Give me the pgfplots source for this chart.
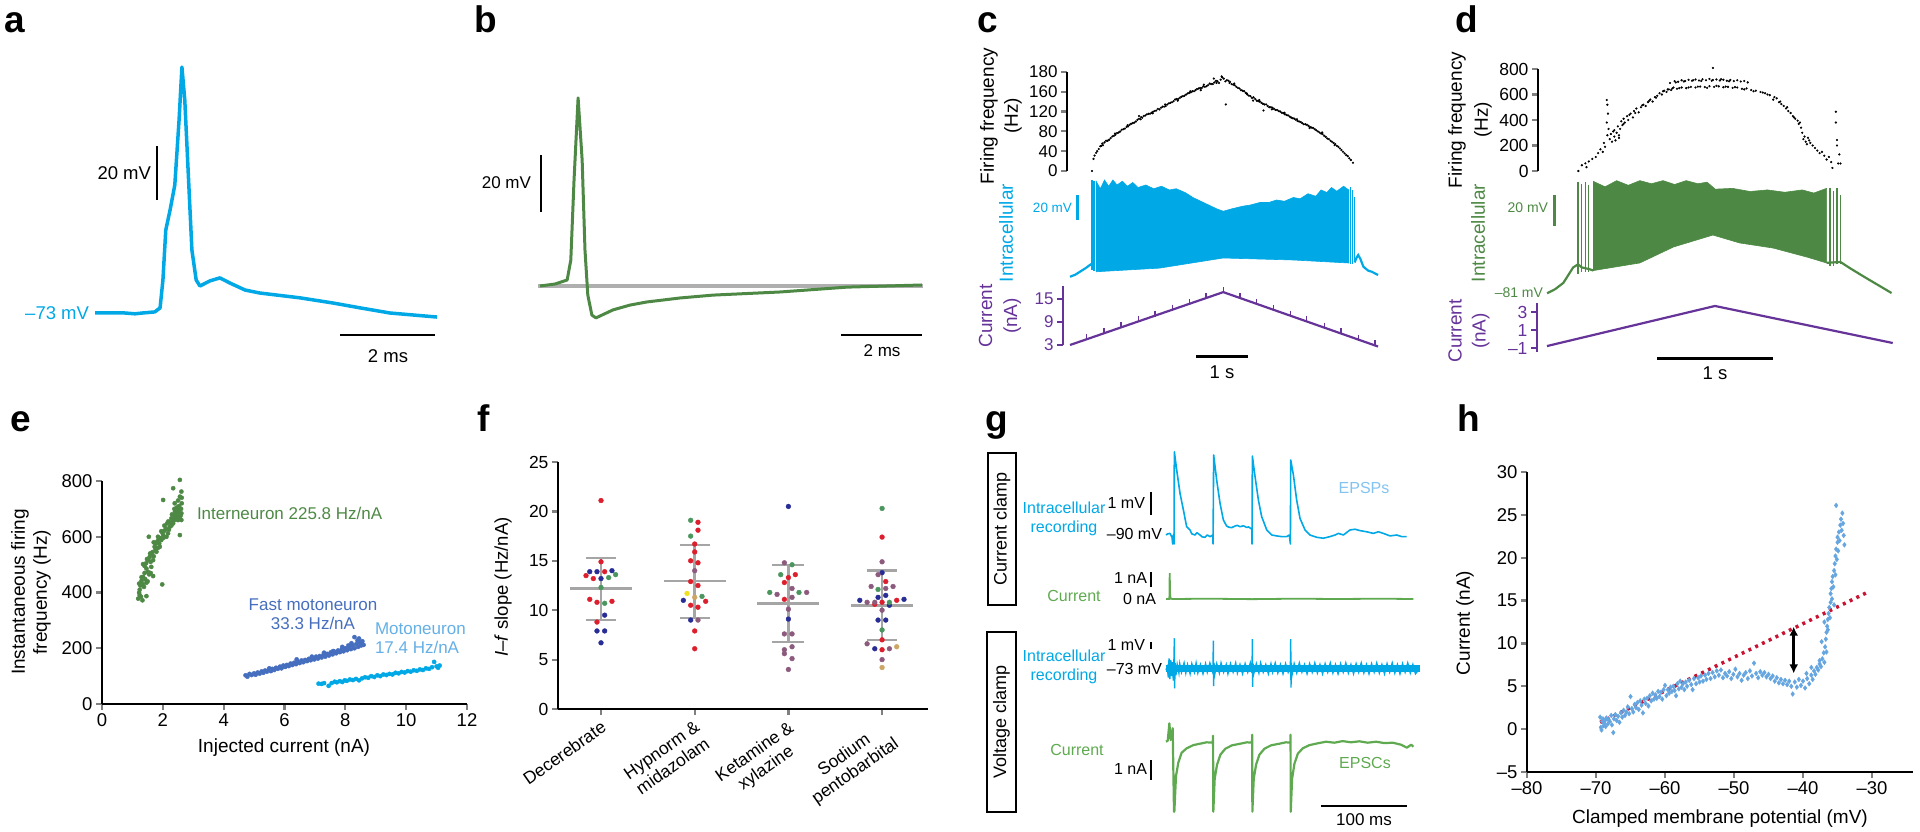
\documentclass[border=0pt]{standalone}
\usepackage{fontspec}
\setmainfont{Liberation Sans}
\usepackage{pgfplots}
\pgfplotsset{compat=1.18}
\usetikzlibrary{arrows.meta}
\definecolor{cyanA}{RGB}{0,168,230}
\definecolor{greenB}{RGB}{77,137,68}
\definecolor{purpleC}{RGB}{102,51,153}
\definecolor{blueF}{RGB}{70,110,190}
\definecolor{lblue}{RGB}{100,175,230}
\definecolor{hblue}{RGB}{102,166,224}
\definecolor{ggreen}{RGB}{95,170,80}
\definecolor{grayB}{RGB}{175,175,175}
\definecolor{fred}{RGB}{220,30,45}
\definecolor{fblue}{RGB}{40,45,150}
\definecolor{fgreen}{RGB}{75,150,95}
\definecolor{fmauve}{RGB}{140,90,125}
\definecolor{fyellow}{RGB}{240,225,30}
\definecolor{ftan}{RGB}{205,165,100}
\definecolor{fgray}{RGB}{165,165,165}
\definecolor{hred}{RGB}{200,20,50}
\definecolor{epsp}{RGB}{130,195,240}
\pgfplotsset{every axis/.append style={scale only axis, clip=false, tick align=outside, major tick length=6pt,
  /pgf/number format/assume math mode=true, axis line style={line width=2.2pt}, tick style={line width=2.2pt},
  tick label style={font=\fontsize{18.5}{20}\selectfont}}}
\tikzset{lab/.style={inner sep=0pt, outer sep=0pt}, pl/.style={lab, anchor=base west, font=\fontsize{37}{37}\selectfont\bfseries}}
\begin{document}
\begin{tikzpicture}
\useasboundingbox (0,0) rectangle (1920pt,831pt);
% ---------- panel letters
\node[pl] at (5pt,798pt) {a};
\node[pl] at (474pt,798pt) {b};
\node[pl] at (977pt,798pt) {c};
\node[pl] at (1455pt,798pt) {d};
\node[pl] at (10pt,399pt) {e};
\node[pl] at (477pt,399pt) {f};
\node[pl] at (985pt,399pt) {g};
\node[pl] at (1457pt,399pt) {h};
% ---------- a
\begin{axis}[at={(95pt,491pt)}, anchor=south west, width=345pt, height=280pt, xmin=0, xmax=7.263, ymin=-83.0, ymax=20.7, hide axis]
\addplot[cyanA, line width=3.5pt, line join=round] coordinates {(0,-73)(0.63,-73)(0.84,-73.3)(1.0,-73)(1.26,-72.6)(1.37,-71.1)(1.43,-60.8)(1.49,-42.3)(1.58,-34.9)(1.68,-25.6)(1.77,-1.5)(1.83,18.1)(1.89,5.9)(1.98,-27.4)(2.04,-49.7)(2.13,-60.8)(2.21,-63)(2.42,-61.1)(2.63,-60)(2.84,-61.9)(3.16,-64.5)(3.47,-65.6)(4.32,-67.4)(5.01,-69.3)(5.58,-71.1)(6.21,-73)(7.2,-74.5)};
\end{axis}
\draw[line width=2.5pt] (157pt,685pt) -- (157pt,631pt);
\draw[line width=2.5pt] (340pt,496pt) -- (435pt,496pt);
\node[lab, anchor=east, text=cyanA, font=\fontsize{18.5}{20}\selectfont] at (89pt,518pt) {–73 mV};
\node[lab, anchor=east, font=\fontsize{18.5}{20}\selectfont] at (151pt,658pt) {20 mV};
\node[lab, font=\fontsize{18.5}{20}\selectfont] at (388pt,475pt) {2 ms};
% ---------- b
\begin{axis}[at={(538pt,491pt)}, anchor=south west, width=387pt, height=260pt, xmin=0, xmax=9.556, ymin=-18.95, ymax=72.28, hide axis]
\addplot[grayB, line width=4.5pt] coordinates {(0,0)(9.5,0)};
\addplot[greenB, line width=3pt, line join=round] coordinates {(0.05,0)(0.42,0.7)(0.72,2.1)(0.81,9.1)(0.89,37.2)(0.99,66.0)(1.09,44.2)(1.16,12.6)(1.23,-3.2)(1.33,-10.2)(1.43,-11.2)(1.58,-10.2)(1.85,-8.4)(2.27,-6.7)(2.69,-5.6)(3.51,-4.2)(4.32,-3.2)(5.98,-2.1)(7.63,-0.4)(9.48,0.35)};
\end{axis}
\draw[line width=2.5pt] (541pt,676pt) -- (541pt,619pt);
\draw[line width=2.5pt] (841pt,496pt) -- (922pt,496pt);
\node[lab, anchor=east, font=\fontsize{17}{19}\selectfont] at (531pt,648pt) {20 mV};
\node[lab, font=\fontsize{17}{19}\selectfont] at (882pt,480pt) {2 ms};
% ---------- c
\begin{axis}[at={(1067pt,660pt)}, anchor=south west, width=313pt, height=99pt, xmin=-0.057, xmax=5.927, ymin=0, ymax=180,
  axis x line=none, axis y line*=left, xtick=\empty, ytick={0,36,72,108,144,180}, yticklabels={0,40,80,120,160,180}, tick label style={font=\fontsize{17}{18}\selectfont}]
\addplot[only marks, mark=*, mark size=0.9pt, black] coordinates {
(0.42,0)(0.45,22)(0.50,33)(0.55,40)(0.60,46)(0.66,52)(0.72,55)(0.78,60)(0.84,64)(0.90,69)(0.96,72)(1.02,76)(1.08,80)(1.14,84)(1.20,87)(1.26,90)(1.32,95)(1.38,97)(1.44,101)(1.50,104)(1.56,106)(1.62,109)(1.68,113)(1.74,115)(1.80,117)(1.86,121)(1.92,124)(1.98,127)(2.04,131)(2.10,133)(2.16,136)(2.22,139)(2.28,142)(2.34,145)(2.40,147)(2.46,150)(2.52,151)(2.58,153)(2.64,156)(2.70,158)(2.76,161)(2.82,163)(2.88,166)(2.94,168)
(3.00,165)(3.06,162)(3.12,157)(3.18,153)(3.24,150)(3.30,146)(3.36,142)(3.42,137)(3.48,133)(3.54,131)(3.60,127)(3.66,124)(3.72,121)(3.78,118)(3.84,116)(3.90,113)(3.96,111)(4.02,108)(4.08,105)(4.14,102)(4.20,99)(4.26,96)(4.32,93)(4.38,90)(4.44,87)(4.50,85)(4.56,82)(4.62,79)(4.68,76)(4.74,72)(4.80,68)(4.86,64)(4.92,59)(4.98,55)(5.04,51)(5.10,46)(5.16,41)(5.22,35)(5.28,29)(5.34,23)(5.41,15)
(0.47,28)(0.52,36)(0.58,45)(0.63,47)(0.69,55)(0.75,57)(0.81,63)(0.87,66)(0.93,70)(0.99,75)(1.05,77)(1.11,81)(1.17,86)(1.23,88)(1.29,93)(1.35,94)(1.41,100)(1.47,103)(1.53,104)(1.59,108)(1.65,110)(1.71,112)(1.77,117)(1.83,118)(1.89,123)(1.95,125)(2.01,130)(2.07,131)(2.13,135)(2.19,137)(2.25,141)(2.31,143)(2.37,145)(2.43,149)(2.49,151)(2.55,154)(2.61,154)(2.67,159)(2.73,158)(2.79,164)(2.85,160)(2.91,170)(2.97,163)
(3.03,164)(3.09,158)(3.15,156)(3.21,151)(3.27,147)(3.33,145)(3.39,139)(3.45,136)(3.51,134)(3.57,128)(3.63,126)(3.69,122)(3.75,121)(3.81,116)(3.87,115)(3.93,111)(3.99,109)(4.05,106)(4.11,103)(4.17,101)(4.23,97)(4.29,95)(4.35,91)(4.41,89)(4.47,85)(4.53,84)(4.59,80)(4.65,78)(4.71,74)(4.77,70)(4.83,67)(4.89,62)(4.95,58)(5.01,53)(5.07,49)(5.13,44)(5.19,38)(5.25,32)(5.31,27)(5.37,20)
(2.98,121)(1.32,100)(3.70,110)(2.75,168)(2.90,172)(3.05,160)(2.5,147)(3.5,128)
(0.62,50)(0.86,68)(1.10,83)(1.36,98)(1.58,105)(1.82,121)(2.06,128)(2.30,145)(2.56,157)(2.80,160)(3.14,159)(3.38,141)(3.62,129)(3.86,112)(4.10,106)(4.34,94)(4.58,78)(4.82,70)(5.06,47)};
\end{axis}
\begin{axis}[at={(1067pt,541pt)}, anchor=south west, width=313pt, height=112pt, xmin=-0.057, xmax=5.927, ymin=0, ymax=89.6, hide axis]
\addplot[cyanA, line width=2.2pt] coordinates {(0,10.6)(0.10,12.2)(0.19,14.6)(0.30,17.5)(0.38,20)(0.42,21)};
\addplot[fill=cyanA, draw=cyanA, line width=0.6pt] coordinates {(0.50,87)(0.58,81)(0.66,88)(0.74,83)(0.82,88)(0.90,84)(1.0,87)(1.1,83)(1.2,86)(1.3,82)(1.45,84)(1.6,81)(1.75,83)(1.9,80)(2.03,81)(2.2,78)(2.35,74)(2.5,71)(2.65,68)(2.8,65)(2.93,63)(3.1,65)(3.3,67)(3.45,68)(3.63,70)(3.8,70)(3.95,72)(4.1,71)(4.27,74)(4.4,73)(4.55,77)(4.7,75)(4.8,80)(4.91,78)(5.0,82)(5.1,79)(5.23,83)(5.33,80)(5.33,21.6)(4.27,24)(2.93,25.6)(1.71,17.5)(0.50,14.6)} -- cycle;
\addplot[cyanA, line width=1.2pt] coordinates {(0.42,16)(0.42,88)};
\addplot[cyanA, line width=1.2pt] coordinates {(0.46,15)(0.46,87)};
\addplot[cyanA, line width=1.2pt] coordinates {(5.36,21)(5.36,82)};
\addplot[cyanA, line width=1.2pt] coordinates {(5.40,21)(5.40,80)};
\addplot[cyanA, line width=1.2pt] coordinates {(5.44,22)(5.44,74)};
\addplot[cyanA, line width=2.2pt] coordinates {(5.44,22)(5.48,26)(5.51,28)(5.55,25)(5.61,18.6)(5.70,15.5)(5.77,14.6)(5.89,12)};
\end{axis}
\begin{axis}[at={(1063pt,486pt)}, anchor=south west, width=317pt, height=59pt, xmin=-0.134, xmax=5.927, ymin=3, ymax=18.4,
  axis x line=none, axis y line*=left, xtick=\empty, ytick={3,9,15}, y axis line style={purpleC}, ytick style={purpleC},
  yticklabel style={text=purpleC}, tick label style={font=\fontsize{17}{18}\selectfont}]
\addplot[purpleC, line width=2.2pt] coordinates {(0,3)(2.93,16.8)(5.89,2.6)};
\addplot[purpleC, only marks, mark=|, mark size=3pt, mark options={line width=1.2pt, yshift=2pt}] coordinates {(0.319,4.50)(0.65,6.06)(0.975,7.59)(1.306,9.15)(1.625,10.65)(1.956,12.21)(2.281,13.74)(2.6,15.25)(2.93,16.8)(3.25,15.26)(3.57,13.73)(3.89,12.19)(4.21,10.66)(4.52,9.17)(4.86,7.54)(5.18,6.01)(5.51,4.42)(5.83,2.89)};
\end{axis}
\draw[cyanA, line width=3pt] (1077pt,636pt) -- (1077pt,611pt);
\node[lab, anchor=east, text=cyanA, font=\fontsize{13.5}{15}\selectfont] at (1072pt,623pt) {20 mV};
\draw[line width=3pt] (1196pt,474pt) -- (1248pt,474pt);
\node[lab, font=\fontsize{18.5}{20}\selectfont] at (1222pt,459pt) {1 s};
\node[lab, rotate=90, align=center, font=\fontsize{19}{24}\selectfont] at (1001pt,715pt) {Firing frequency\\(Hz)};
\node[lab, rotate=90, text=cyanA, font=\fontsize{19}{24}\selectfont] at (1006pt,598pt) {Intracellular};
\node[lab, rotate=90, align=center, text=purpleC, font=\fontsize{19}{25}\selectfont] at (1000pt,515pt) {Current\\(nA)};
% ---------- d
\begin{axis}[at={(1538pt,660pt)}, anchor=south west, width=357pt, height=102pt, xmin=-0.078, xmax=3.0, ymin=0, ymax=800,
  axis x line=none, axis y line*=left, xtick=\empty, ytick={0,200,...,800}, tick label style={font=\fontsize{17.5}{18}\selectfont}]
\addplot[only marks, mark=*, mark size=0.9pt, black] coordinates {
(0.27,0)(0.30,45)(0.33,60)(0.36,75)(0.34,30)(0.39,95)(0.42,110)(0.44,140)(0.46,170)(0.48,150)(0.5,190)(0.49,220)(0.515,557)(0.52,520)(0.525,450)(0.515,380)(0.53,330)(0.52,280)(0.54,250)(0.55,290)(0.56,230)(0.57,310)(0.58,270)(0.59,240)(0.60,300)(0.61,350)(0.62,280)(0.63,330)(0.64,390)(0.65,360)(0.66,410)(0.67,380)(0.69,430)(0.70,400)(0.72,450)(0.74,420)(0.75,470)(0.77,490)(0.79,460)(0.81,500)(0.83,520)(0.85,510)(0.87,540)(0.89,560)(0.91,545)(0.93,580)(0.95,590)(0.97,610)(0.99,600)(1.01,630)(1.03,620)(1.05,640)(1.07,635)(1.09,655)
(1.06,690)(1.10,705)(1.13,700)(1.16,712)(1.19,706)(1.22,715)(1.25,708)(1.28,718)(1.31,710)(1.34,720)(1.37,712)(1.40,722)(1.43,714)(1.46,718)(1.49,710)(1.52,716)(1.55,708)(1.58,714)(1.61,705)(1.64,712)(1.67,702)(1.70,706)(1.73,695)
(1.00,625)(1.04,640)(1.08,648)(1.12,645)(1.16,655)(1.20,650)(1.24,660)(1.28,655)(1.32,662)(1.36,658)(1.40,665)(1.44,660)(1.48,664)(1.52,657)(1.56,660)(1.60,652)(1.64,655)(1.68,645)(1.72,648)(1.76,635)(1.80,630)(1.84,620)(1.88,610)(1.92,595)(1.96,580)
(1.95,560)(1.98,570)(2.00,540)(2.02,525)(2.04,510)(2.06,490)(2.08,470)(2.10,455)(2.12,430)(2.14,410)(2.16,395)(2.17,370)(2.19,340)(2.20,300)(2.21,250)(2.22,270)(2.23,230)(2.24,210)(2.25,260)(2.27,220)(2.29,200)(2.31,180)(2.33,160)(2.35,140)(2.37,150)(2.39,120)(2.41,90)(2.43,110)(2.45,70)(2.46,24)
(2.49,465)(2.49,380)(2.50,243)(2.50,200)(2.51,59)(2.53,59)(2.52,130)(1.43,808)
(0.58,320)(0.62,260)(0.66,370)(0.71,440)(0.76,455)(0.82,515)(0.88,550)(0.94,575)(1.11,695)(1.18,702)(1.26,712)(1.33,706)(1.42,708)(1.50,720)(1.57,704)(1.14,650)(1.22,655)(1.30,662)(1.38,652)(1.46,668)(1.54,662)(1.62,658)(1.70,640)(1.78,625)(1.86,615)(1.90,600)(2.01,545)(2.07,500)(2.13,420)(2.18,380)(2.26,240)};
\end{axis}
\begin{axis}[at={(1538pt,531pt)}, anchor=south west, width=357pt, height=122pt, xmin=-0.078, xmax=3.0, ymin=0, ymax=78.7, hide axis]
\addplot[greenB, line width=2.2pt] coordinates {(0,4.3)(0.07,7)(0.14,11)(0.225,21)(0.267,23)(0.30,21)(0.36,20)(0.40,19)};
\addplot[fill=greenB, draw=greenB, line width=0.6pt] coordinates {(0.40,76.5)(0.5,73)(0.6,77)(0.7,74)(0.8,77)(0.9,75)(1.0,77)(1.1,74.5)(1.2,77)(1.3,75)(1.38,76)(1.45,71.5)(1.6,72)(1.75,70)(1.9,71)(2.05,69.5)(2.2,71)(2.3,69)(2.41,72)(2.41,23.9)(2.24,27.7)(1.95,33.5)(1.66,36.8)(1.43,41.9)(1.09,34.2)(0.80,23.9)(0.40,19)} -- cycle;
\addplot[greenB, line width=1.2pt] coordinates {(0.267,17)(0.267,76)};
\addplot[greenB, line width=1.2pt] coordinates {(0.30,18)(0.30,75)};
\addplot[greenB, line width=1.2pt] coordinates {(0.33,18)(0.33,76)};
\addplot[greenB, line width=1.2pt] coordinates {(0.36,18)(0.36,74)};
\addplot[greenB, line width=1.2pt] coordinates {(2.44,22)(2.44,72)};
\addplot[greenB, line width=1.2pt] coordinates {(2.47,22)(2.47,70)};
\addplot[greenB, line width=1.2pt] coordinates {(2.50,23)(2.50,72)};
\addplot[greenB, line width=1.2pt] coordinates {(2.53,23)(2.53,68)};
\addplot[greenB, line width=2.2pt] coordinates {(2.41,24)(2.53,24.5)(2.61,20.6)(2.70,16.5)(2.78,12.9)(2.88,8.5)(2.97,4.5)};
\end{axis}
\begin{axis}[at={(1537pt,479pt)}, anchor=south west, width=358pt, height=49pt, xmin=-0.086, xmax=3.0, ymin=-1.44, ymax=4,
  axis x line=none, axis y line*=left, xtick=\empty, ytick={-1,1,3}, yticklabels={–1,1,3}, y axis line style={purpleC}, ytick style={purpleC},
  yticklabel style={text=purpleC}, tick label style={font=\fontsize{17.5}{18}\selectfont}]
\addplot[purpleC, line width=2.2pt] coordinates {(0,-0.78)(1.448,3.67)(2.98,-0.44)};
\end{axis}
\draw[greenB, line width=3pt] (1554pt,636pt) -- (1554pt,605pt);
\node[lab, anchor=east, text=greenB, font=\fontsize{14}{15}\selectfont] at (1548pt,623pt) {20 mV};
\node[lab, anchor=east, text=greenB, font=\fontsize{14}{15}\selectfont] at (1543pt,538pt) {–81 mV};
\draw[line width=3pt] (1657pt,472pt) -- (1773pt,472pt);
\node[lab, font=\fontsize{18.5}{20}\selectfont] at (1715pt,458pt) {1 s};
\node[lab, rotate=90, align=center, font=\fontsize{19}{26}\selectfont] at (1470pt,711pt) {Firing frequency\\(Hz)};
\node[lab, rotate=90, text=greenB, font=\fontsize{19}{24}\selectfont] at (1478pt,598pt) {Intracellular};
\node[lab, rotate=90, align=center, text=purpleC, font=\fontsize{19}{24}\selectfont] at (1469pt,500pt) {Current\\(nA)};
% ---------- e
\begin{axis}[at={(102pt,127pt)}, anchor=south west, width=365pt, height=223pt, xmin=0, xmax=12, ymin=0, ymax=800,
  axis lines*=left, xtick={0,2,...,12}, ytick={0,200,...,800}]
\addplot[only marks, mark=*, mark size=2.1pt, greenB] coordinates {
(1.19,378)(1.24,390)(1.22,399)(1.28,385)(1.33,372)(1.46,387)(1.22,432)(1.30,442)(1.26,425)(1.34,430)(1.38,420)(1.46,435)(1.50,440)(1.35,456)(1.42,448)(1.68,459)(1.51,474)(1.55,465)(1.60,470)(1.35,502)(1.40,495)(1.45,505)(1.51,516)(1.62,492)(1.46,486)(1.57,528)(1.52,520)(1.60,510)(1.68,516)(1.64,535)(1.70,530)(1.79,546)(1.73,564)(1.76,555)(1.84,560)(1.90,564)(1.81,582)(1.88,575)(1.95,588)(1.84,600)(1.92,595)(2.01,606)(2.12,600)(1.54,600)(2.06,622)(1.98,615)(2.17,612)(2.10,630)(2.23,636)(2.20,625)(2.34,648)(2.28,640)(2.39,660)(2.28,666)(2.32,658)(2.44,670)(2.50,672)(2.61,684)(2.45,696)(2.56,702)(2.34,678)(2.50,660)(2.61,660)(2.40,690)(2.48,685)(2.52,692)(2.58,675)(2.42,675)(2.55,668)(2.36,665)(2.46,705)(2.53,710)(2.39,720)(2.56,744)(2.50,730)(2.34,774)(2.56,804)(2.61,762)(2.01,732)(2.56,606)(1.98,429)(2.05,640)(2.14,648)(2.18,655)(1.95,620)(2.02,596)(1.86,590)(1.76,575)(1.66,545)(1.58,540)(1.48,520)(1.40,470)(1.30,455)(1.24,410)(2.25,650)(2.30,680)(2.38,700)(2.60,700)(2.62,720)(2.62,740)(1.70,580)};
\addplot[only marks, mark=*, mark size=2.1pt, blueF] coordinates {
(4.72,103)(4.78,98)(4.85,108)(4.92,104)(5.00,110)(5.05,105)(5.12,113)(5.18,109)(5.25,117)(5.30,112)(5.36,120)(5.42,116)(5.48,123)(5.55,118)(5.60,126)(5.66,122)(5.72,130)(5.78,126)(5.85,134)(5.90,128)(5.96,138)(6.02,133)(6.08,140)(6.14,136)(6.20,145)(6.26,140)(6.32,148)(6.38,143)(6.44,152)(6.50,147)(6.56,156)(6.62,150)(6.68,158)(6.74,154)(6.80,162)(6.86,157)(6.92,165)(6.98,160)(7.04,170)(7.10,163)(7.16,172)(7.22,167)(7.28,176)(7.34,170)(7.40,180)(7.46,174)(7.52,185)(7.58,178)(7.64,188)(7.70,182)(7.76,192)(7.82,186)(7.88,196)(7.94,189)(8.00,200)(8.06,193)(8.12,205)(8.18,197)(8.24,210)(8.30,200)(8.36,215)(8.42,205)(8.48,222)(8.52,210)(8.56,225)(8.30,240)(8.45,235)(8.50,215)(8.60,212)(7.90,205)(8.20,218)(7.60,190)(6.40,160)(5.50,128)(8.10,210)(8.40,228)(7.30,184)(6.90,170)};
\addplot[only marks, mark=*, mark size=2.1pt, cyanA] coordinates {
(7.12,73)(7.22,72)(7.30,75)(7.45,65)(7.55,75)(7.65,80)(7.72,78)(7.82,82)(7.90,79)(7.98,85)(8.05,83)(8.15,88)(8.25,86)(8.35,90)(8.45,85)(8.55,92)(8.65,96)(8.75,94)(8.85,100)(8.95,97)(9.05,103)(9.15,100)(9.25,106)(9.35,104)(9.45,108)(9.55,106)(9.65,112)(9.75,110)(9.85,115)(9.95,113)(10.05,118)(10.15,116)(10.25,121)(10.35,119)(10.45,124)(10.55,122)(10.65,128)(10.75,126)(10.85,132)(10.92,151)(11.00,135)(11.10,138)(11.05,130)};
\end{axis}
\node[lab, anchor=west, text=greenB, font=\fontsize{17}{19}\selectfont] at (197pt,318pt) {Interneuron 225.8 Hz/nA};
\node[lab, align=center, text=blueF, font=\fontsize{17}{19}\selectfont] at (313pt,217pt) {Fast motoneuron\\33.3 Hz/nA};
\node[lab, anchor=west, align=left, text=lblue, font=\fontsize{17}{19}\selectfont] at (375pt,193pt) {Motoneuron\\17.4 Hz/nA};
\node[lab, font=\fontsize{19}{21}\selectfont] at (284pt,83pt) {Injected current (nA)};
\node[lab, rotate=90, align=center, font=\fontsize{19}{22}\selectfont] at (31pt,239pt) {Instantaneous firing\\frequency (Hz)};
% ---------- f
\begin{axis}[at={(558pt,122pt)}, anchor=south west, width=370pt, height=247pt, xmin=-0.459, xmax=3.49, ymin=0, ymax=25,
  axis lines*=left, xtick={0,1,2,3}, ytick={0,5,...,25}, tick label style={font=\fontsize{17.5}{19.5}\selectfont},
  xticklabels={Decerebrate,{Hypnorm \&\\midazolam},{Ketamine \&\\xylazine},{Sodium\\pentobarbital}},
  xticklabel style={rotate=35, anchor=north east, align=center}]
\addplot[only marks, mark=*, mark size=2.4pt, fred] coordinates {(0,21.1)(0,14.9)(0.039,13.9)(-0.160,13.5)(-0.082,13.2)(-0.12,11.1)(-0.043,10.8)(0.117,10.9)(-0.043,8.8)(1.035,18.9)(1.035,18.1)(1,16.7)(1,15.9)(0.957,15.0)(1.035,14.8)(0.957,12.9)(1.035,12.5)(1.117,10.9)(0.957,10.5)(1.035,10.3)(1,7.9)(1,6.1)(2.074,13.6)(2,13.3)(1.957,12.8)(1.957,11.1)(3,17.4)(3.039,12.9)(3,10.8)(3.156,11.0)(2.922,10.6)(3,7.0)(3,6.0)};
\addplot[only marks, mark=*, mark size=2.4pt, fblue] coordinates {(-0.12,13.9)(-0.043,13.9)(0.117,14.0)(0,13.2)(0.039,9.5)(-0.043,7.9)(0.039,7.9)(0,6.7)(0.879,11.0)(0.957,9.0)(2,20.5)(2,9.1)(3,13.8)(2.957,11.3)(3.039,11.5)(2.762,11.0)(3.234,11.1)(3.078,10.5)(2.957,9.0)(3.039,9.0)(2.922,6.1)};
\addplot[only marks, mark=*, mark size=2.4pt, fgreen] coordinates {(0.082,13.3)(0.156,13.6)(0,12.3)(0.039,10.7)(0.957,19.1)(0.957,17.5)(1.078,11.4)(2.039,14.6)(1.918,13.6)(1.801,11.8)(2.113,11.8)(3,20.3)(2.957,12.1)(3.078,10.8)(3,8.0)};
\addplot[only marks, mark=*, mark size=2.4pt, fmauve] coordinates {(1,14.0)(1.035,9.0)(1.957,14.8)(2.039,12.2)(1.879,11.6)(2.195,11.8)(2.039,11.3)(2,10.1)(1.957,7.6)(2.039,7.6)(2.039,6.3)(1.957,6.0)(1.957,5.6)(2.039,5.1)(2,4.0)(3,14.9)(2.957,13.6)(2.883,12.4)(3.039,12.2)(3.117,12.4)(2.840,10.8)(2.922,10.8)(3,10.0)(2.840,6.6)(3.078,6.1)(3,5.0)};
\addplot[only marks, mark=*, mark size=2.4pt, fyellow] coordinates {(0.918,11.7)};
\addplot[only marks, mark=*, mark size=2.4pt, ftan] coordinates {(1,11.3)(3.156,6.3)(3,4.2)};
\addplot[fgray, line width=2.5pt, unbounded coords=jump] coordinates {(-0.33,12.2)(0.33,12.2)(0.4,nan)(-0.16,15.3)(0.16,15.3)(0.2,nan)(-0.16,9.0)(0.16,9.0)(0.2,nan)(0,9.0)(0,15.3)};
\addplot[fgray, line width=2.5pt, unbounded coords=jump] coordinates {(0.67,12.95)(1.33,12.95)(1.4,nan)(0.84,16.6)(1.16,16.6)(1.2,nan)(0.84,9.2)(1.16,9.2)(1.2,nan)(1,9.2)(1,16.6)};
\addplot[fgray, line width=2.5pt, unbounded coords=jump] coordinates {(1.67,10.7)(2.33,10.7)(2.4,nan)(1.83,14.6)(2.17,14.6)(2.2,nan)(1.83,6.8)(2.17,6.8)(2.2,nan)(2,6.8)(2,14.6)};
\addplot[fgray, line width=2.5pt, unbounded coords=jump] coordinates {(2.67,10.5)(3.33,10.5)(3.4,nan)(2.84,14.0)(3.16,14.0)(3.2,nan)(2.84,7.0)(3.16,7.0)(3.2,nan)(3,7.0)(3,14.0)};
\end{axis}
\node[lab, rotate=90, font=\fontsize{18.5}{20}\selectfont] at (503pt,244pt) {\textit{I}–\textit{f} slope (Hz/nA)};
% ---------- g
\draw[line width=2pt] (988pt,226pt) rectangle (1016pt,378pt);
\node[lab, rotate=90, font=\fontsize{18}{20}\selectfont] at (1002pt,302pt) {Current clamp};
\draw[line width=2pt] (987pt,19pt) rectangle (1016pt,199pt);
\node[lab, rotate=90, font=\fontsize{18}{20}\selectfont] at (1001.5pt,109pt) {Voltage clamp};
\node[lab, align=center, text=cyanA, font=\fontsize{16}{18.5}\selectfont] at (1064pt,312pt) {Intracellular\\recording};
\node[lab, text=ggreen, font=\fontsize{16}{18}\selectfont] at (1074pt,235pt) {Current};
\node[lab, align=center, text=cyanA, font=\fontsize{16}{18.5}\selectfont] at (1064pt,164pt) {Intracellular\\recording};
\node[lab, text=ggreen, font=\fontsize{16}{18}\selectfont] at (1077pt,81pt) {Current};
\node[lab, anchor=east, font=\fontsize{16}{18}\selectfont] at (1145pt,328pt) {1 mV};
\draw[line width=2pt] (1151pt,339pt) -- (1151pt,316pt);
\node[lab, anchor=east, font=\fontsize{16}{18}\selectfont] at (1162pt,297pt) {–90 mV};
\node[lab, anchor=east, font=\fontsize{16}{18}\selectfont] at (1147pt,253pt) {1 nA};
\draw[line width=2pt] (1151pt,259pt) -- (1151pt,244pt);
\node[lab, anchor=east, font=\fontsize{16}{18}\selectfont] at (1156pt,232pt) {0 nA};
\node[lab, anchor=east, font=\fontsize{16}{18}\selectfont] at (1145pt,186pt) {1 mV};
\draw[line width=2pt] (1151pt,189pt) -- (1151pt,182pt);
\node[lab, anchor=east, font=\fontsize{16}{18}\selectfont] at (1162pt,162pt) {–73 mV};
\node[lab, anchor=east, font=\fontsize{16}{18}\selectfont] at (1147pt,62pt) {1 nA};
\draw[line width=2pt] (1151pt,71pt) -- (1151pt,51pt);
\node[lab, text=epsp, font=\fontsize{16}{18}\selectfont] at (1364pt,343pt) {EPSPs};
\node[lab, text=ggreen, font=\fontsize{16}{18}\selectfont] at (1365pt,68pt) {EPSCs};
\draw[line width=2.5pt] (1321pt,25pt) -- (1407pt,25pt);
\node[lab, font=\fontsize{17}{18}\selectfont] at (1364pt,11pt) {100 ms};
\begin{axis}[at={(1166pt,281pt)}, anchor=south west, width=254pt, height=105pt, xmin=0, xmax=295.3, ymin=-90.652, ymax=-86.087, hide axis]
\addplot[cyanA, line width=1.6pt, line join=round] coordinates {(0,-90)(2,-89.95)(4.65,-89.93)(7.0,-90.1)(7.75,-90.39)(8.5,-90.0)(9.3,-90.39)(9.69,-86.38)(12.4,-87.17)(16.3,-88.19)(20.2,-88.91)(24.0,-89.64)(27.9,-89.78)(30,-89.95)(33.7,-90)(36,-89.9)(39.5,-90)(42,-90.08)(45.3,-90.1)(48,-90.0)(51.2,-90.07)(54.3,-90)(54.7,-90.39)(55.4,-86.52)(58.9,-87.61)(62.8,-88.62)(66.7,-89.35)(70.5,-89.61)(73,-89.66)(76.4,-89.68)(80.2,-89.61)(83,-89.58)(86.0,-89.64)(90,-89.6)(93.8,-89.67)(96,-89.65)(98.4,-89.71)(99.8,-89.75)(100,-90.39)(100.4,-86.57)(103.5,-87.46)(107.4,-88.48)(111.2,-89.2)(117.1,-89.78)(122.9,-90)(128.7,-90.04)(134.5,-90.07)(140.3,-90.07)(143.4,-90)(144.6,-90.39)(145.0,-86.74)(148.1,-87.39)(151.9,-88.48)(155.8,-89.28)(161.6,-89.78)(167.4,-90)(175.2,-90.1)(182.9,-90.14)(190.7,-90.07)(196.5,-90)(200.4,-89.93)(206.2,-90)(213.9,-89.78)(219.8,-89.75)(225.6,-89.81)(233.3,-89.86)(241.1,-89.93)(246.9,-89.86)(252.7,-89.93)(260.5,-90.04)(268.2,-90)(274.0,-90.07)(279.8,-90.07)};
\end{axis}
\begin{axis}[at={(1166pt,221pt)}, anchor=south west, width=254pt, height=50pt, xmin=0, xmax=295.3, ymin=-0.733, ymax=2.6, hide axis]
\addplot[ggreen, line width=1.8pt] coordinates {(0,0)(3.9,0)(4.3,1.73)(4.8,0.2)(5.5,0.05)(7,0)(50,0.02)(100,-0.01)(150,0.02)(200,0)(250,0.02)(287.6,0)};
\end{axis}
\begin{axis}[at={(1166pt,131pt)}, anchor=south west, width=254pt, height=70pt, xmin=0, xmax=295.3, ymin=-77.1, ymax=-68.03, hide axis]
\addplot[fill=cyanA, draw=none] coordinates {(0,-72.55)(295,-72.55)(295,-73.45)(0,-73.45)} -- cycle;
\addplot[cyanA, line width=1.4pt] coordinates {(0,-73.2)(1.5,-72.8)(2.7,-74.2)(3.5,-71.7)(4.5,-74.4)(5.5,-71.9)(6.5,-74.0)(7.5,-72.2)(8.5,-74.6)(9.3,-71.5)(9.7,-69.1)(10.0,-75.6)(10.6,-72.3)(11.5,-73.9)(13,-72.5)(15,-73.6)(16,-72.4)(18,-73.5)(21,-72.3)(23,-73.6)(25,-72.5)(28,-73.7)(30,-72.4)(33,-73.5)(35,-72.3)(37,-73.6)(40,-72.5)(43,-73.7)(46,-72.4)(48,-73.5)(51,-72.3)(54.6,-73.6)(55.0,-69.4)(55.3,-75.3)(55.8,-72.3)(56.6,-73.8)(59,-72.4)(62,-73.6)(64,-72.3)(67,-73.5)(70,-72.5)(72,-73.7)(75,-72.4)(78,-73.5)(81,-72.3)(83,-73.6)(86,-72.5)(89,-73.7)(92,-72.4)(95,-73.5)(98,-72.3)(100.0,-73.6)(100.4,-69.2)(100.7,-75.4)(101.2,-72.4)(102,-73.7)(105,-72.4)(108,-73.6)(110,-72.3)(113,-73.5)(116,-72.5)(119,-73.7)(122,-72.4)(124,-73.5)(127,-72.3)(130,-73.6)(133,-72.5)(136,-73.7)(139,-72.4)(142,-73.5)(144.6,-72.7)(145.0,-69.2)(145.3,-75.5)(145.8,-72.3)(146.6,-73.8)(149,-72.4)(152,-73.6)(155,-72.3)(158,-73.5)(161,-72.5)(164,-73.7)(167,-72.4)(170,-73.5)(173,-72.3)(176,-73.6)(179,-72.5)(182,-73.7)(185,-72.4)(188,-73.5)(191,-72.3)(194,-73.6)(197,-72.5)(200,-73.7)(203,-72.4)(206,-73.5)(209,-72.3)(212,-73.6)(215,-72.5)(218,-73.7)(221,-72.4)(224,-73.5)(227,-72.3)(230,-73.6)(233,-72.5)(236,-73.7)(239,-72.4)(242,-73.5)(245,-72.3)(248,-73.6)(251,-72.5)(254,-73.7)(257,-72.4)(260,-73.5)(263,-72.3)(266,-73.6)(269,-72.5)(272,-73.7)(275,-72.4)(278,-73.5)(281,-72.3)(284,-73.6)(287,-72.5)(290,-73.7)(295,-73.0)};
\end{axis}
\begin{axis}[at={(1166pt,16pt)}, anchor=south west, width=254pt, height=100pt, xmin=0, xmax=295.3, ymin=-3.615, ymax=1.385, hide axis]
\addplot[ggreen, line width=2.2pt, line join=round] coordinates {(0,0.05)(2,0.1)(3.9,0.97)(5.4,0.13)(7.75,0.72)(9.3,-3.45)(9.7,-3.45)(11.6,-1.67)(14.3,-1.0)(18.2,-0.5)(24.0,-0.28)(31.8,-0.12)(39.5,-0.05)(47.3,0.02)(54.3,0.0)(54.7,0.35)(55.0,-3.45)(56.6,-1.8)(59.3,-1.1)(63.2,-0.6)(69.0,-0.3)(76.8,-0.13)(86.4,-0.05)(94.2,0.02)(100.0,0.0)(100.2,0.4)(100.4,-3.45)(102.0,-1.8)(104.7,-1.1)(108.6,-0.6)(114.4,-0.3)(122.2,-0.13)(131.8,-0.05)(139.5,0.02)(144.6,0.0)(144.8,0.4)(145.0,-3.45)(146.6,-1.8)(149.3,-1.05)(153.2,-0.55)(159.0,-0.28)(166.8,-0.12)(176.4,-0.03)(186.0,0.05)(195.7,0.0)(205.4,0.08)(215.0,0.02)(224.8,0.07)(234.5,0.0)(244.2,0.05)(253.9,-0.02)(263.6,0.0)(273.3,-0.1)(280.0,-0.25)(285.0,-0.1)(287.6,-0.2)};
\end{axis}
% ---------- h
\begin{axis}[at={(1527pt,59pt)}, anchor=south west, width=386pt, height=300pt, xmin=-80, xmax=-24.06, ymin=-5, ymax=30,
  axis lines*=left, xtick={-80,-70,...,-30}, xticklabels={–80,–70,–60,–50,–40,–30}, ytick={-5,0,...,30}, yticklabels={–5,0,5,10,15,20,25,30}]
\addplot[only marks, mark=diamond*, mark size=2.4pt, hblue] coordinates {
(-69.4,1.4)(-69.3,0.2)(-69.2,-0.1)(-69.1,0.9)(-69.0,1.2)(-68.9,0.4)(-68.8,0.7)(-68.7,1.0)(-68.6,0.3)(-68.5,1.3)(-68.3,0.6)(-68.2,1.1)(-68.0,0.9)(-67.8,1.6)(-67.7,0.5)(-67.5,-0.4)(-67.4,1.2)(-67.2,1.7)(-67.0,1.0)(-66.8,1.5)(-66.6,0.8)(-66.4,1.9)(-66.2,1.4)(-66.0,2.2)(-65.8,1.6)(-65.6,2.0)(-65.4,2.6)(-65.2,1.8)(-65.0,3.8)(-64.8,2.4)(-64.6,2.0)(-64.4,2.9)(-64.2,2.5)(-64.0,3.1)(-63.8,2.3)(-63.6,3.3)(-63.4,2.8)(-63.2,1.9)(-63.0,3.5)(-62.8,3.0)(-62.6,3.6)(-62.4,2.7)(-62.2,3.9)(-62.0,3.3)(-61.8,4.2)(-61.6,3.5)(-61.4,4.0)(-61.2,3.6)(-61.0,4.4)(-60.8,3.8)(-60.6,4.3)(-60.4,3.5)(-60.2,4.6)(-60.0,5.1)(-59.8,3.9)(-59.6,4.6)(-59.4,4.2)(-59.2,4.9)(-59.0,4.4)(-58.8,5.0)(-58.6,4.5)(-58.4,3.9)(-58.2,5.3)(-58.0,4.7)(-57.8,5.6)(-57.6,4.9)(-57.4,5.3)(-57.2,4.6)(-57.0,5.5)(-56.8,5.0)(-56.5,5.7)(-56.2,5.2)(-56.0,4.6)(-55.8,5.9)(-55.5,5.3)(-55.2,6.0)(-55.0,5.5)(-54.8,6.2)(-54.5,5.6)(-54.2,6.3)(-54.0,5.8)(-53.7,6.5)(-53.4,5.9)(-53.1,6.6)(-52.8,6.1)(-52.5,6.8)(-52.2,6.3)(-51.9,6.9)(-51.6,6.0)(-51.3,6.5)(-51.0,6.2)(-50.7,6.7)(-50.4,5.9)(-50.1,6.4)(-49.8,7.0)(-49.5,6.1)(-49.2,6.5)(-48.9,5.7)(-48.6,6.3)(-48.3,6.6)(-48.0,5.9)(-47.7,6.8)(-47.4,6.2)(-47.1,7.7)(-46.8,6.5)(-46.5,6.0)(-46.2,6.7)(-45.9,6.3)(-45.6,6.6)(-45.3,6.1)(-45.0,6.4)(-44.7,5.9)(-44.4,6.2)(-44.1,5.6)(-43.8,6.0)(-43.5,5.4)(-43.2,5.8)(-42.9,5.3)(-42.6,5.7)(-42.3,5.2)(-42.0,5.6)(-41.7,5.0)(-41.5,4.1)(-41.2,5.5)(-40.9,4.9)(-40.6,5.8)(-40.3,5.1)(-40.0,5.6)(-39.7,4.8)(-39.4,5.9)(-39.1,5.3)(-38.8,6.3)(-38.6,5.8)(-38.4,6.8)(-38.2,6.4)(-38.0,7.2)(-37.8,6.9)(-37.6,7.6)(-37.4,7.3)(-37.2,8.2)(-37.0,8.9)(-36.9,7.8)(-36.8,9.6)(-36.7,10.5)(-36.6,11.3)(-36.5,12.0)(-36.4,11.6)(-36.4,12.8)(-36.3,13.5)(-36.2,14.2)(-36.1,13.0)(-36.0,14.8)(-36.0,15.8)(-35.9,16.4)(-35.8,15.2)(-35.8,17.2)(-35.7,17.8)(-35.6,16.6)(-35.5,18.5)(-35.4,19.3)(-35.3,18.0)(-35.3,20.2)(-35.2,21.0)(-35.1,19.8)(-35.0,21.8)(-35.0,22.4)(-34.9,20.8)(-34.8,23.0)(-34.7,22.0)(-34.6,23.8)(-34.5,24.5)(-34.4,23.2)(-34.3,25.2)(-34.2,24.0)(-34.1,22.6)(-34.0,21.5)(-35.2,26.1)(-36.6,9.0)(-37.3,10.2)(-36.9,12.5)(-35.5,14.5)(-37.6,8.0)(-38.8,7.2)(-39.5,6.5)};
\addplot[hred, line width=3.5pt, dash pattern=on 3pt off 4.5pt] coordinates {(-69.4,0.78)(-30.7,15.95)};
\draw[{Latex[length=9pt,width=9pt]}-{Latex[length=9pt,width=9pt]}, line width=2.5pt] (axis cs:-41.35,11.95) -- (axis cs:-41.35,6.5);
\end{axis}
\node[lab, rotate=90, font=\fontsize{19}{21}\selectfont] at (1465pt,208pt) {Current (nA)};
\node[lab, font=\fontsize{19}{21}\selectfont] at (1720pt,12pt) {Clamped membrane potential (mV)};
\end{tikzpicture}
\end{document}
